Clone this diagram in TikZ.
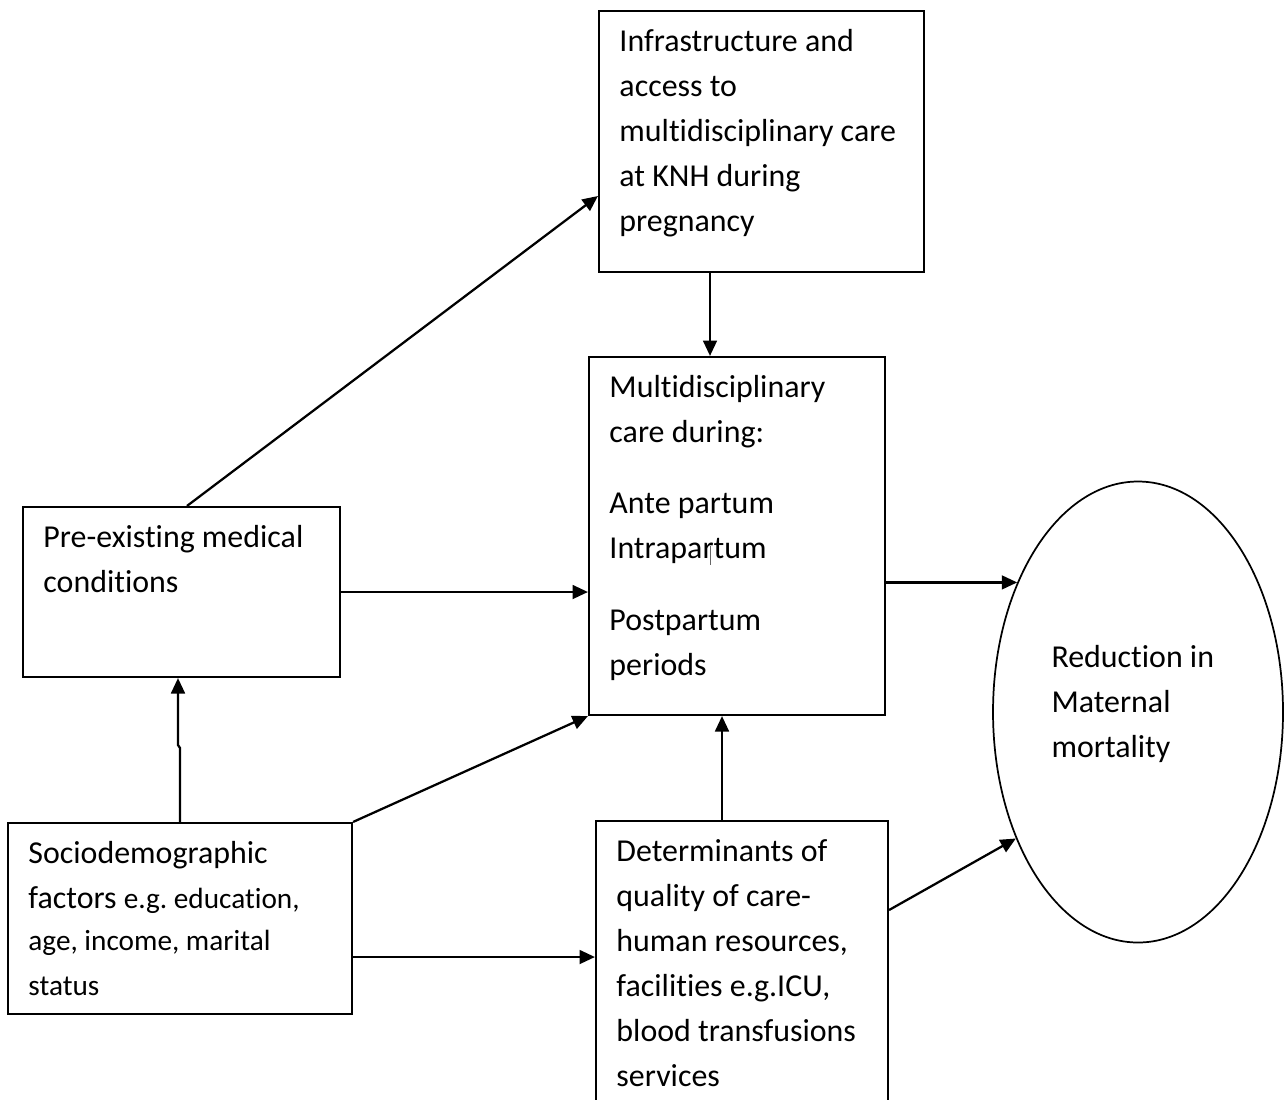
\documentclass[tikz,border=0pt]{standalone}
\usepackage{fontspec}
\setmainfont{Carlito}[Ligatures=NoCommon]
\usetikzlibrary{shapes.geometric}
\usetikzlibrary{arrows.meta}

\newcommand{\pxu}{0.376pt}
\frenchspacing

\tikzset{
  factorbox/.style 2 args={draw, rectangle, line width=0.8pt, inner sep=0pt,
    minimum width=#1*\pxu, minimum height=#2*\pxu},
  boxtext/.style={anchor=north west, inner sep=0pt, align=left, text width=135pt,
    font=\fontsize{12}{16.9}\selectfont,
    execute at begin node={\spaceskip=0pt\xspaceskip=0pt\strut}},
  link/.style={line width=0.85pt, -{Triangle[length=5.8pt, width=5.2pt]}},
}

\begin{document}
\begin{tikzpicture}[x=0.376pt, y=-0.376pt]

  \useasboundingbox (0,0) rectangle (1285,1099);

  \node [factorbox={325}{261}] (infra) at (761.5,141.5) {};
  \node [factorbox={296}{358}] (multi) at (737,536) {};
  \node [factorbox={317}{170}] (pre) at (181.5,592) {};
  \node [factorbox={344}{191}] (socio) at (180,918.5) {};
  \node [factorbox={292}{291}] (det) at (742,966.5) {};
  \node [draw, ellipse, line width=0.65pt, inner sep=0pt,
         minimum width=290*\pxu, minimum height=461*\pxu] (red) at (1138,712) {};

  \node [boxtext] (infra-t) at ([shift={(21,9.5)}]infra.north west)
        {Infrastructure and\\ access to\\ multidisciplinary care\\ at KNH during\\ pregnancy};
  \node [boxtext] (multi-t) at ([shift={(21,9.5)}]multi.north west)
        {Multidisciplinary\\ care during:\\[10pt] Ante partum\\ Intrapartum\\[10pt] Postpartum\\ periods};
  \node [boxtext] (pre-t) at ([shift={(21,9.5)}]pre.north west)
        {Pre-existing medical\\ conditions};
  \node [boxtext] (socio-t) at ([shift={(21,9.5)}]socio.north west)
        {Sociodemographic\\[1.1pt] factors \fontsize{11}{15.8}\selectfont e.g. education,\\ age, income, marital\\ status};
  \node [boxtext] (det-t) at ([shift={(21,9.5)}]det.north west)
        {Determinants of\\ quality of care-\\ human resources,\\ facilities e.g.ICU,\\ blood transfusions\\ services};
  \node [boxtext] (red-t) at ([shift={(-87,-76.5)}]red.center)
        {Reduction in\\ Maternal\\ mortality};

  \draw [line width=0.3pt, black!60] (710,546) -- (710,565);

  \draw [link] (pre.north) ++(5.5,0) -- (infra.west |- 0,196);
  \draw [link] (infra.south -| 710,0) -- (multi.north -| 710,0);
  \draw [link] (pre.east) -- (pre.east -| multi.west);
  \draw [link] (multi.east |- red.133) -- (red.133);

  \coordinate (kink) at (178,745);
  \draw [link] (socio.north) -- (socio.north |- 0,748) -- (kink) -- (kink |- pre.south);
  \draw [link] (socio.north east) -- (multi.south west);
  \draw [link] (socio.east |- 0,957) -- (det.west |- 0,957);
  \draw [link] (det.north -| 722,0) -- (multi.south -| 722,0);
  \draw [link] (det.east |- 0,910) -- (red.226);

\end{tikzpicture}
\end{document}
